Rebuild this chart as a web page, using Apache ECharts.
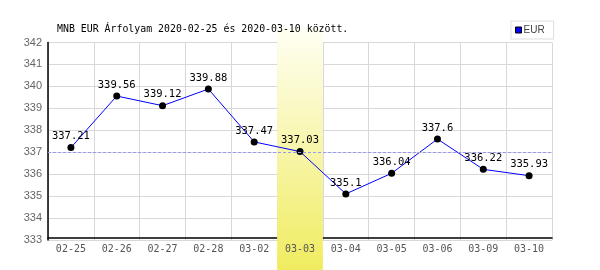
<!DOCTYPE html>
<html>
<head>
<meta charset="utf-8">
<script src="https://cdn.jsdelivr.net/npm/echarts@6/dist/echarts.min.js"></script>
<style>html,body{margin:0;padding:0;background:#fff}#c{width:600px;height:270px}</style>
</head>
<body>
<div id="c"></div>
<script>
var categories = ['02-25','02-26','02-27','02-28','03-02','03-03','03-04','03-05','03-06','03-09','03-10'];
var eurValues = [337.21, 339.56, 339.12, 339.88, 337.47, 337.03, 335.1, 336.04, 337.6, 336.22, 335.93];
var referenceValue = 337;
var highlightCategory = '03-03';
var yTicks = {min: 333, max: 342, interval: 1};
var titleText = 'MNB EUR Árfolyam 2020-02-25 és 2020-03-10 között.';

var chart = echarts.init(document.getElementById('c'), null, {renderer: 'canvas'});
var mono = 'DejaVu Sans Mono';
chart.setOption({
  animation: false,
  backgroundColor: '#fff',
  title: {
    text: titleText, left: 52, top: 19,
    textStyle: {fontFamily: mono, fontSize: 9.9, fontWeight: 'normal', color: '#000'}
  },
  legend: {
    left: 511, top: 21,
    data: [{name: 'EUR', icon: 'rect', itemStyle: {color: '#0000ff', borderColor: '#000', borderWidth: 1}}],
    itemWidth: 6, itemHeight: 6, itemGap: 2,
    borderColor: '#dddddd', borderWidth: 1, borderRadius: 0,
    padding: [4, 9, 4, 4],
    textStyle: {fontFamily: 'Liberation Sans', fontSize: 10, color: '#444', padding: [0,0,0,-3]}
  },
  grid: {left: 48, right: 48, top: 42.5, bottom: 30, containLabel: false},
  xAxis: [{
    type: 'category', data: categories, boundaryGap: true, offset: -2, z: 0,
    axisLine: {lineStyle: {color: '#000', width: 1.5}},
    axisTick: {show: false},
    axisLabel: {show: false},
    splitLine: {show: true, lineStyle: {color: '#d8d8d8', width: 1}}
  }, {
    type: 'category', data: categories, boundaryGap: true, position: 'bottom', z: 5,
    axisLine: {show: false}, axisTick: {show: false}, splitLine: {show: false},
    axisLabel: {show: true, color: '#555', fontFamily: mono, fontSize: 10, margin: 4, interval: 0}
  }],
  yAxis: {
    type: 'value', min: yTicks.min, max: yTicks.max, interval: yTicks.interval, z: 0,
    axisLine: {show: true, lineStyle: {color: '#000', width: 1.5}},
    axisTick: {show: false},
    axisLabel: {color: '#666', fontFamily: 'Liberation Sans', fontSize: 11, margin: 6},
    splitLine: {show: true, lineStyle: {color: '#d8d8d8', width: 1}}
  },
  series: [{
    name: 'ref', type: 'line', data: [], z: 0, silent: true,
    markLine: {
      silent: true, symbol: 'none', label: {show: false},
      lineStyle: {color: '#9999ee', type: [3, 2], width: 1},
      data: [{yAxis: referenceValue}]
    }
  }, {
    name: 'EUR', type: 'line', data: eurValues, z: 3,
    symbol: 'circle', symbolSize: 7,
    itemStyle: {color: '#000'},
    lineStyle: {color: '#0000ff', width: 1},
    label: {show: true, position: 'top', distance: 2, color: '#000', fontFamily: mono, fontSize: 10.5}
  }]
});

var cx = chart.convertToPixel({xAxisIndex: 0}, highlightCategory);
var i = categories.indexOf(highlightCategory);
var bw = chart.convertToPixel({xAxisIndex: 0}, categories[i + 1]) - cx;
chart.setOption({
  graphic: [{
    type: 'rect', z: 1,
    shape: {x: cx - bw / 2, y: 28, width: bw, height: 270 - 28},
    style: {fill: new echarts.graphic.LinearGradient(0, 0, 0, 1, [
      {offset: 0, color: '#fffff4'}, {offset: 1, color: '#f0ec60'}
    ])}
  }]
});
</script>
</body>
</html>
